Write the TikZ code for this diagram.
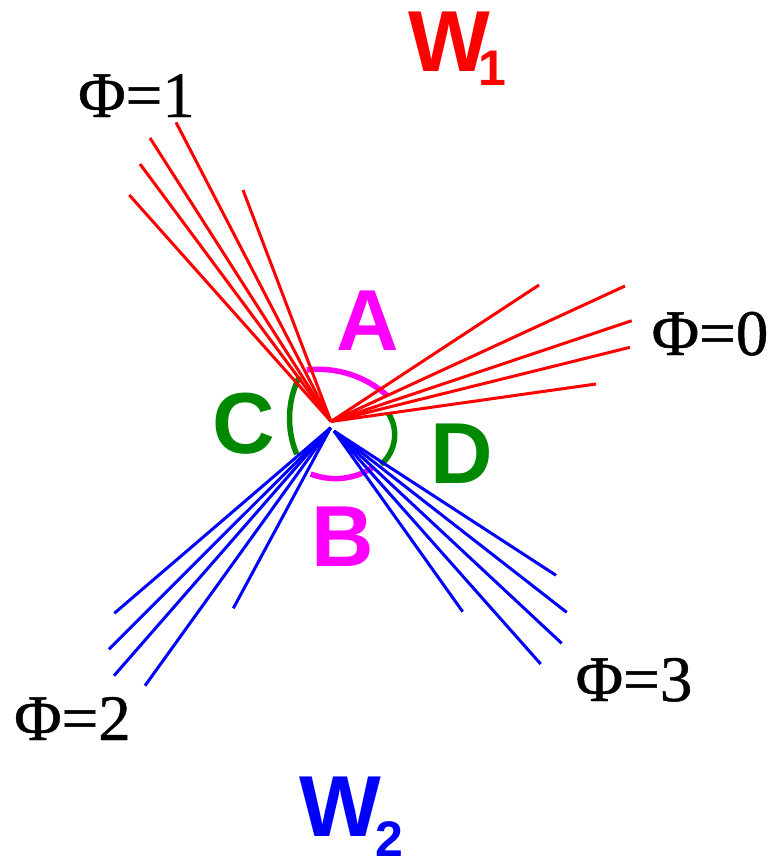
\documentclass[tikz,border=0pt]{standalone}
\usepackage{fontspec}
\setmainfont{Liberation Serif}
\newfontfamily\hv{Liberation Sans}
\newfontfamily\phifont[FakeBold=0.7]{Liberation Serif}
\definecolor{mygreen}{RGB}{0,136,0}
\definecolor{mymag}{RGB}{255,0,255}
\begin{document}
\begin{tikzpicture}[x=1pt,y=-1pt,
 redray/.style={draw=red,line width=3pt},
 blueray/.style={draw=blue,line width=3pt},
 arcm/.style={draw=mymag,line width=5.5pt},
 arcg/.style={draw=mygreen,line width=5.5pt},
 big/.style={inner sep=0,anchor=base,font=\hv\bfseries\fontsize{86.6}{90}\selectfont},
 sub/.style={inner sep=0,anchor=base,text depth=0pt,font=\hv\bfseries\fontsize{50}{54}\selectfont},
 philab/.style={inner sep=0,anchor=base,font=\phifont\fontsize{65}{68}\selectfont}]
\useasboundingbox (0,0) rectangle (772,860);
% arcs
\draw[arcm] (318.4,472.6) ++(-96.5:103.3) arc[start angle=-96.5,end angle=-48.1,radius=103.3];
\draw[arcm] (335.5,410.0) ++(111.2:68.6) arc[start angle=111.2,end angle=56.9,radius=68.6];
\draw[arcg] (382.9,418.35) ++(206.5:93.4) arc[start angle=206.5,end angle=157.4,radius=93.4];
\draw[arcg] (355.6,434.7) ++(-33.2:39.1) arc[start angle=-33.2,end angle=49.6,radius=39.1];
% apexes
\coordinate (r) at (331,421.5);
\coordinate (bl) at (330.7,427.7);
\coordinate (br) at (334,431);
% red rays
\coordinate (r1) at (129.3,195);
\coordinate (r2) at (140,164);
\coordinate (r3) at (150,138);
\coordinate (r4) at (176,122.3);
\coordinate (r5) at (243,190);
\coordinate (r6) at (539,285);
\coordinate (r7) at (625,286);
\coordinate (r8) at (631.7,320.7);
\coordinate (r9) at (630,347.3);
\coordinate (r10) at (596,384);
\foreach \i in {1,...,10} \draw[redray] (r) -- (r\i);
% blue rays
\coordinate (b1) at (114.3,613.3);
\coordinate (b2) at (109,649.3);
\coordinate (b3) at (114,675.7);
\coordinate (b4) at (145,685.7);
\coordinate (b5) at (233.3,608.3);
\coordinate (b6) at (462.7,611.7);
\coordinate (b7) at (540.7,664);
\coordinate (b8) at (561.7,643.3);
\coordinate (b9) at (566.7,612.3);
\coordinate (b10) at (556,575.3);
\foreach \i in {1,...,5} \draw[blueray] (bl) -- (b\i);
\foreach \i in {6,...,10} \draw[blueray] (br) -- (b\i);
% labels
\node[big,text=mymag] (A) at (367.5,350) {A};
\node[big,text=mymag] (B) at (342.5,566.7) {B};
\node[big,text=mygreen] (C) at (243.3,453) {C};
\node[big,text=mygreen] (D) at (461.7,483.3) {D};
\node[big,text=red] (W1) at (449,71.7) {W};
\node[sub,text=red] (W1s) at (492,85) {1};
\node[big,text=blue] (W2) at (340.8,836.7) {W};
\node[sub,text=blue] (W2s) at (389.5,856) {2};
\node[philab] (p1) at (136.5,117) {Φ=1};
\node[philab] (p0) at (710,355) {Φ=0};
\node[philab] (p2) at (72.5,740) {Φ=2};
\node[philab] (p3) at (634,701) {Φ=3};
\end{tikzpicture}
\end{document}
